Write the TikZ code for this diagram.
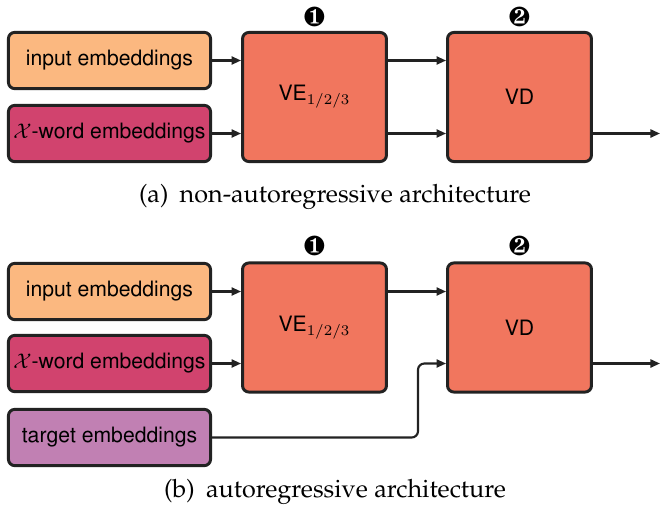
\documentclass[tikz,border=0pt]{standalone}
\usepackage[T1]{fontenc}
\usepackage{palatino}
\usepackage{helvet}
\usepackage{amsmath, amssymb}
\usepackage{pifont}
\usepackage{xcolor}
\usepackage{tikz}
\usetikzlibrary{arrows.meta, positioning, calc}

\definecolor{inpcol}{HTML}{FBB880}
\definecolor{xwcol}{HTML}{D1436E}
\definecolor{vcol}{HTML}{F1765E}
\definecolor{tgtcol}{HTML}{C180B3}
\definecolor{edgecol}{HTML}{222222}

\tikzset{
  embbox/.style={draw=edgecol, line width=1.4pt, rounded corners=3pt,
    minimum width=95.5pt, minimum height=26.6pt, inner sep=0pt,
    font=\sffamily},
  blockbox/.style={draw=edgecol, line width=1.4pt, rounded corners=3pt, fill=vcol,
    minimum width=68pt, minimum height=61pt, inner sep=0pt, font=\sffamily},
  arr/.style={draw=edgecol, line width=1pt, -{Triangle[length=4.5pt,width=3.8pt]}},
  numlbl/.style={font=\fontsize{13}{13}\selectfont, inner sep=0pt},
  capt/.style={font=\rmfamily\fontsize{11.9}{14}\selectfont}
}

\begin{document}
\begin{tikzpicture}[x=0.4725pt,y=-0.4725pt]
  \useasboundingbox (0,0) rectangle (660,510);

  % (a) non-autoregressive
  \node[embbox, fill=inpcol] (inpA) at (109.5,60.5) {input embeddings};
  \node[embbox, fill=xwcol] (xwA) at (109.5,133.5) {$\mathcal{X}$-word embeddings};
  \node[blockbox] (veA) at (314.5,97) {VE$_{1/2/3}$};
  \node[blockbox] (vdA) at (519.5,97) {VD};
  \node[numlbl] (oneA) at (314.5,16.5) {\ding{182}};
  \node[numlbl] (twoA) at (519.5,16.5) {\ding{183}};
  \coordinate (outA) at (660,133.5);

  \draw[arr] (inpA.east) -- (inpA.east -| veA.west);
  \draw[arr] (xwA.east) -- (xwA.east -| veA.west);
  \draw[arr] (inpA.east -| veA.east) -- (inpA.east -| vdA.west);
  \draw[arr] (xwA.east -| veA.east) -- (xwA.east -| vdA.west);
  \draw[arr] (outA -| vdA.east) -- (outA);

  \node[capt] (captA) at (335,197) {(a)\hspace{0.45em}non-autoregressive architecture};

  % (b) autoregressive
  \node[embbox, fill=inpcol] (inpB) at (109.5,291.5) {input embeddings};
  \node[embbox, fill=xwcol] (xwB) at (109.5,363.5) {$\mathcal{X}$-word embeddings};
  \node[embbox, fill=tgtcol] (tgtB) at (109.5,437.5) {target embeddings};
  \node[blockbox] (veB) at (314.5,327.5) {VE$_{1/2/3}$};
  \node[blockbox] (vdB) at (519.5,327.5) {VD};
  \node[numlbl] (oneB) at (314.5,246) {\ding{182}};
  \node[numlbl] (twoB) at (519.5,246) {\ding{183}};
  \coordinate (bendB) at (418,437.5);
  \coordinate (outB) at (660,363.5);

  \draw[arr] (inpB.east) -- (inpB.east -| veB.west);
  \draw[arr] (xwB.east) -- (xwB.east -| veB.west);
  \draw[arr] (inpB.east -| veB.east) -- (inpB.east -| vdB.west);
  \draw[arr, rounded corners=3pt] (tgtB.east) -- (bendB) -- (bendB |- outB) -- (outB -| vdB.west);
  \draw[arr] (outB -| vdB.east) -- (outB);

  \node[capt] (captB) at (335,492) {(b)\hspace{0.45em}autoregressive architecture};
\end{tikzpicture}
\end{document}
